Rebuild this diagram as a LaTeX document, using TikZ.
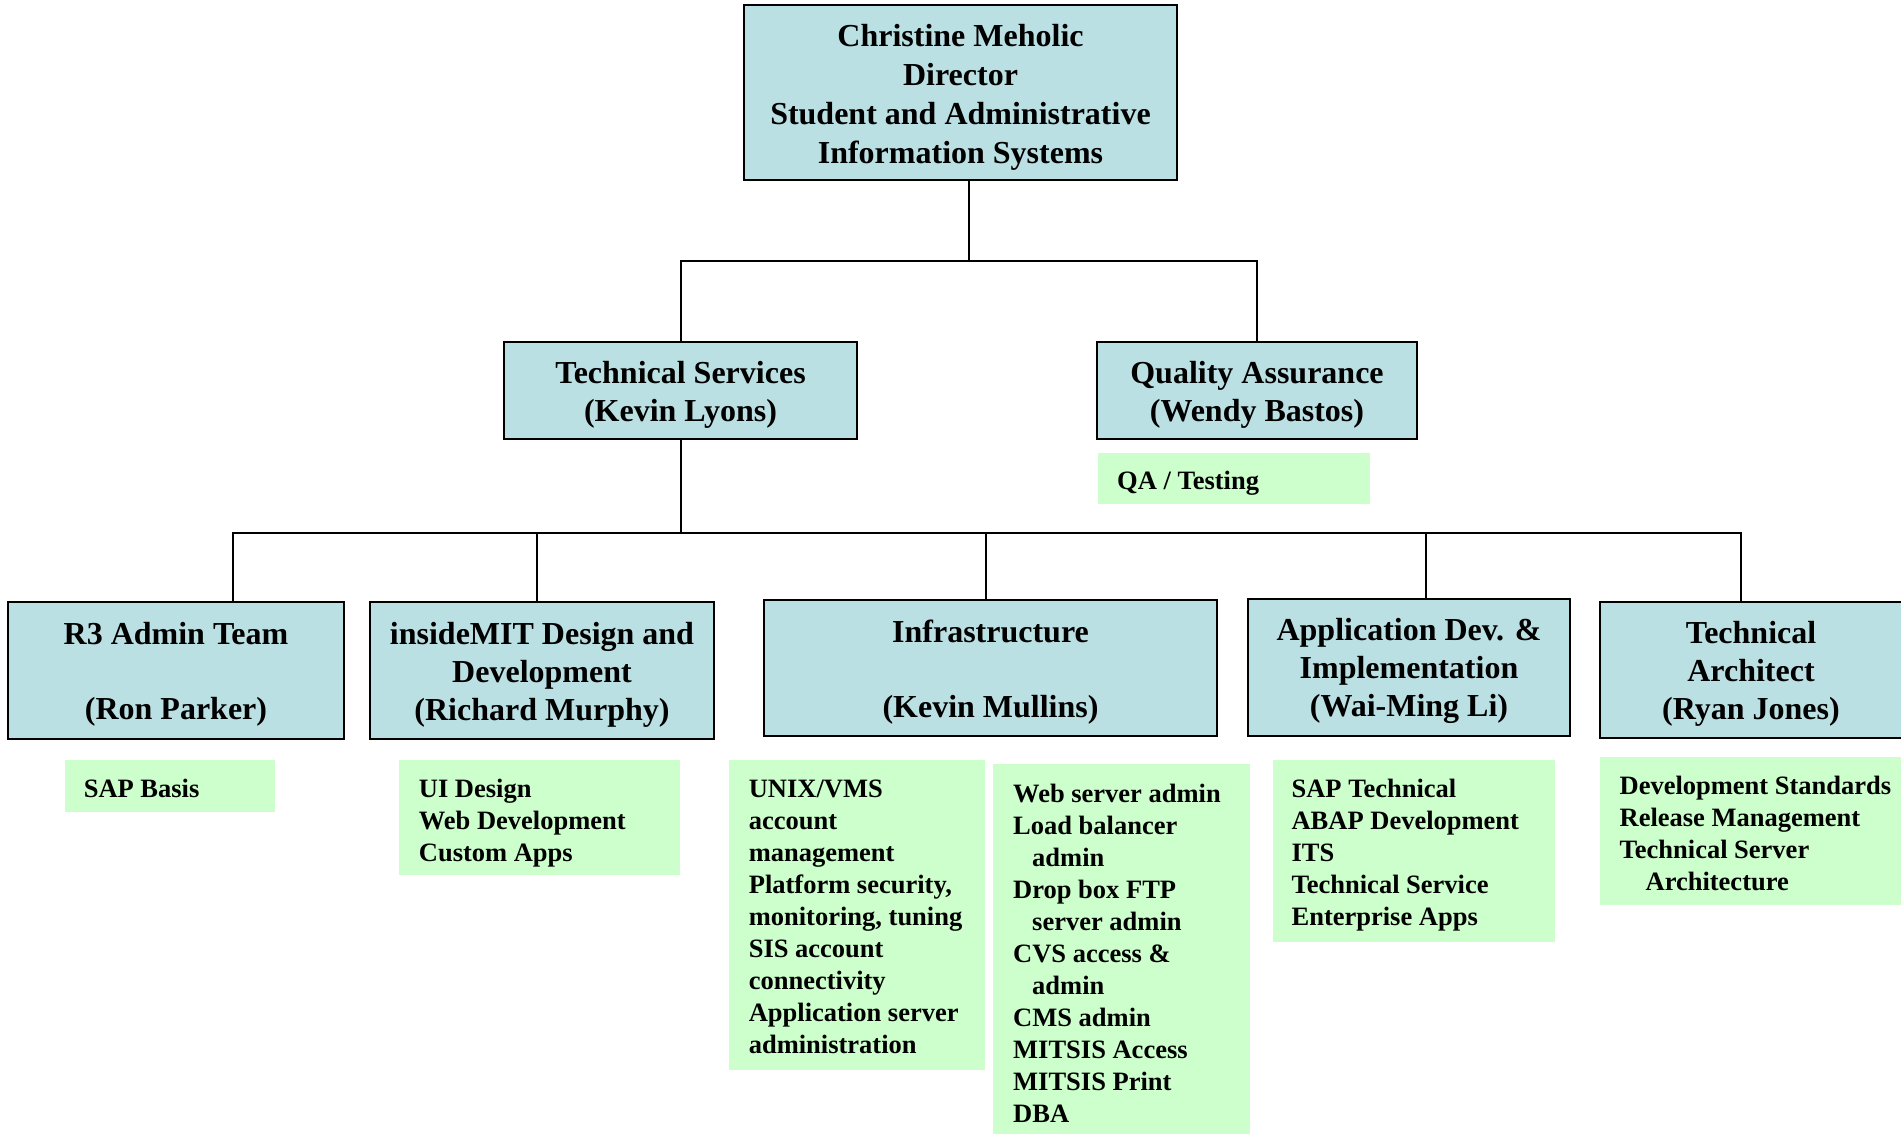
\documentclass[tikz,border=0pt]{standalone}
\usepackage{fontspec}
\setmainfont{Liberation Serif}
\definecolor{boxblue}{HTML}{BBE0E3}
\definecolor{boxgreen}{HTML}{CCFFCC}
\newcommand{\fstrut}{\rule{0pt}{20pt}}
\newcommand{\tstrut}{\rule{0pt}{30pt}}
\begin{document}
\begin{tikzpicture}[x=1pt,y=-1pt,
  titlebox/.style={draw=black, line width=2pt, fill=boxblue, align=center, inner sep=0pt,
    font=\fontsize{32}{38}\selectfont\bfseries},
  greenbox/.style={fill=boxgreen, draw=none, inner sep=0pt, anchor=north west},
  gtext/.style={align=left, inner sep=0pt, anchor=north west, yshift=-2.5pt,
    font=\fontsize{26.5}{32}\selectfont\bfseries},
  conn/.style={draw=black, line width=2pt}]
\clip (0,0) rectangle (1901,1133);
\fill[white] (0,0) rectangle (1901,1133);

% coordinates of connector junctions
\coordinate (b1) at (969,261);
\coordinate (b2) at (681,533);
\coordinate (j1) at (233,533);
\coordinate (j2) at (537,533);
\coordinate (j3) at (985.5,533);
\coordinate (j4) at (1425.5,533);
\coordinate (j5) at (1741,533);

% title boxes
\node[titlebox, minimum width=433pt, minimum height=175pt, font=\fontsize{32}{38.8}\selectfont\bfseries] (dir) at (960.5,92.5)
  {\rule{0pt}{32pt}Christine Meholic\\Director\\Student and Administrative\\Information Systems};
\node[titlebox, minimum width=353pt, minimum height=97pt] (ts) at (680.5,390.5)
  {\tstrut Technical Services\\(Kevin Lyons)};
\node[titlebox, minimum width=320pt, minimum height=97pt] (qa) at (1257,390.5)
  {\tstrut Quality Assurance\\(Wendy Bastos)};
\node[titlebox, minimum width=336pt, minimum height=137pt] (r3) at (176,670.5)
  {\tstrut R3 Admin Team\\[37pt](Ron Parker)};
\node[titlebox, minimum width=344pt, minimum height=137pt] (im) at (542,670.5)
  {\tstrut insideMIT Design and\\Development\\(Richard Murphy)};
\node[titlebox, minimum width=453pt, minimum height=136pt] (inf) at (990.5,668)
  {\tstrut Infrastructure\\[37pt](Kevin Mullins)};
\node[titlebox, minimum width=322pt, minimum height=137pt] (ad) at (1409,667.5)
  {\tstrut Application Dev. \&\\Implementation\\(Wai-Ming Li)};
\node[titlebox, minimum width=302pt, minimum height=136pt] (ta) at (1751,670)
  {\tstrut Technical\\Architect\\(Ryan Jones)};

% connectors
\draw[conn] (dir.south -| b1) -- (b1);
\draw[conn] (ts.north) |- (b1) -| (qa.north);
\draw[conn] (ts.south) -- (ts.south |- b2);
\draw[conn] (j1 |- r3.north) -- (j1) -- (j5) -- (j5 |- ta.north);
\draw[conn] (j2) -- (j2 |- im.north);
\draw[conn] (j3) -- (j3 |- inf.north);
\draw[conn] (j4) -- (j4 |- ad.north);

% green boxes
\node[greenbox, minimum width=272pt, minimum height=51pt] (qag) at (1098,453) {};
\node[gtext] (qat) at (1117,466.7) {\fstrut QA / Testing};

\node[greenbox, minimum width=210pt, minimum height=52pt] (sapg) at (65,760) {};
\node[gtext] (sapt) at (83.6,775) {\fstrut SAP Basis};

\node[greenbox, minimum width=281pt, minimum height=115pt] (uig) at (399,760) {};
\node[gtext] (uit) at (418.7,775) {\fstrut UI Design\\Web Development\\Custom Apps};

\node[greenbox, minimum width=256pt, minimum height=310pt] (unixg) at (729,760) {};
\node[gtext] (unixt) at (748.6,775) {\fstrut UNIX/VMS\\account\\management\\Platform security,\\monitoring, tuning\\SIS account\\connectivity\\Application server\\administration};

\node[greenbox, minimum width=257pt, minimum height=380pt] (webg) at (993,764) {};
\node[gtext] (webt) at (1013,779.4) {\fstrut Web server admin\\Load balancer\\\hspace*{19pt}admin\\Drop box FTP\\\hspace*{19pt}server admin\\CVS access \&\\\hspace*{19pt}admin\\CMS admin\\MITSIS Access\\MITSIS Print\\DBA};

\node[greenbox, minimum width=282pt, minimum height=182pt] (sapteg) at (1273,760) {};
\node[gtext] (saptet) at (1291.4,775) {\fstrut SAP Technical\\ABAP Development\\ITS\\Technical Service\\Enterprise Apps};

\node[greenbox, minimum width=320pt, minimum height=148pt] (devg) at (1600,757) {};
\node[gtext] (devt) at (1619.4,771.7) {\fstrut Development Standards\\Release Management\\Technical Server\\\hspace*{26pt}Architecture};
\end{tikzpicture}
\end{document}
